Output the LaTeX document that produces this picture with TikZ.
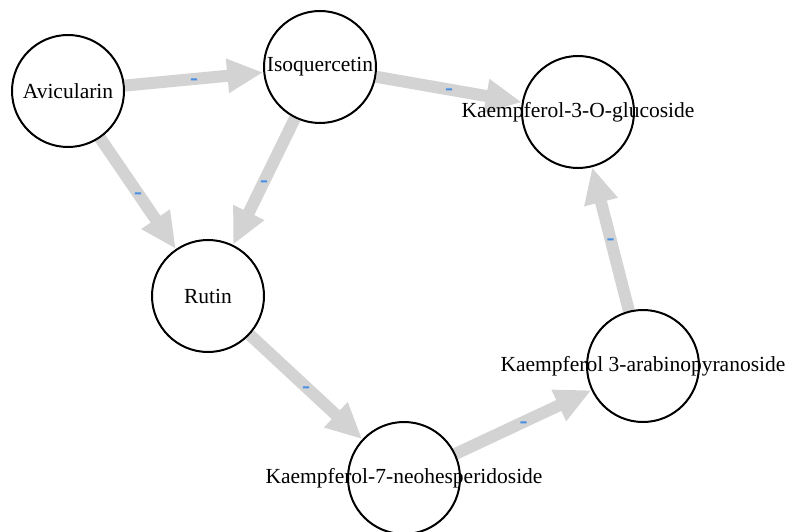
\documentclass[tikz,border=0pt]{standalone}
\usepackage{fontspec}
\setmainfont{Liberation Serif}
\usepackage{tikz}
\usetikzlibrary{arrows.meta,backgrounds}
\definecolor{edgegray}{RGB}{211,211,211}
\definecolor{signblue}{RGB}{74,144,226}

\begin{document}
\begin{tikzpicture}[x=1pt,y=-1pt]
            \tikzstyle{compound}=[circle,draw,line width=2pt,minimum size=112pt,inner sep=0pt,font=\fontsize{21.5}{23}\selectfont]
            \tikzstyle{link}=[draw=edgegray,line width=12pt,-{Triangle[length=36pt,width=32pt]}]
            \tikzstyle{sign}=[text=signblue,inner sep=0pt,yshift=-3pt,font=\fontsize{24}{24}\selectfont\bfseries]
            \useasboundingbox (0,0) rectangle (787,532);
            \node[compound] (avicularin) at (68,91) {\makebox[0pt]{Avicularin}};
            \node[compound] (isoquercetin) at (320,67) {\makebox[0pt]{Isoquercetin}};
            \node[compound] (k3glc) at (578,112) {\makebox[0pt]{Kaempferol-3-O-glucoside}};
            \node[compound] (rutin) at (208,296) {\makebox[0pt]{Rutin}};
            \node[compound] (k3ara) at (643,366) {\makebox[0pt]{Kaempferol 3-arabinopyranoside}};
            \node[compound] (k7neo) at (404,478) {\makebox[0pt]{Kaempferol-7-neohesperidoside}};
            % links go under the node texts
            \begin{pgfonlayer}{background}
            \draw[link] (avicularin) -- node[sign] {-} (isoquercetin);
            \draw[link] (isoquercetin) -- node[sign] {-} (k3glc);
            \draw[link] (avicularin) -- node[sign] {-} (rutin);
            \draw[link] (isoquercetin) -- node[sign] {-} (rutin);
            \draw[link] (rutin) -- node[sign] {-} (k7neo);
            \draw[link] (k7neo) -- node[sign] {-} (k3ara);
            \draw[link] (k3ara) -- node[sign] {-} (k3glc);
            \end{pgfonlayer}
\end{tikzpicture}
\end{document}
